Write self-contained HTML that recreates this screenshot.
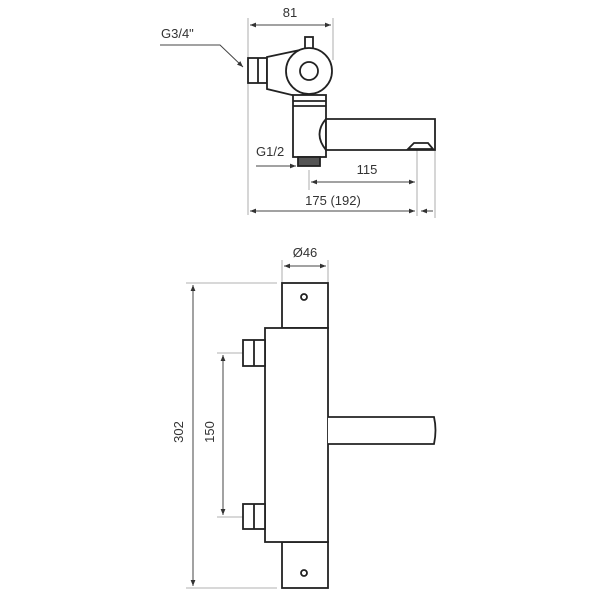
<!DOCTYPE html><html><head><style>body{margin:0;background:#fff}svg{display:block}text{font-family:"Liberation Sans",sans-serif;fill:#333;font-size:13px}</style></head><body>
<svg width="600" height="600" viewBox="0 0 600 600" xmlns="http://www.w3.org/2000/svg">
<defs><marker id="a" viewBox="0 0 10 10" refX="10" refY="5" markerWidth="8" markerHeight="6" orient="auto-start-reverse"><path d="M0,1 L10,5 L0,9 z" fill="#333"/></marker></defs>
<g stroke="#999" stroke-width="0.8" fill="none">
<line x1="248" y1="18" x2="248" y2="215"/><line x1="333" y1="18" x2="333" y2="60"/>
<line x1="309" y1="170" x2="309" y2="190"/><line x1="417" y1="150" x2="417" y2="216"/><line x1="435" y1="150" x2="435" y2="218"/>
<line x1="282" y1="260" x2="282" y2="283"/><line x1="328" y1="260" x2="328" y2="283"/>
<line x1="186" y1="283" x2="277" y2="283"/><line x1="186" y1="588" x2="277" y2="588"/>
<line x1="217" y1="353" x2="243" y2="353"/><line x1="217" y1="517" x2="243" y2="517"/>
</g>
<g stroke="#444" stroke-width="1" fill="none">
<line x1="250" y1="25" x2="331" y2="25" marker-start="url(#a)" marker-end="url(#a)"/>
<polyline points="160,45 220,45 243,67" marker-end="url(#a)"/>
<line x1="256" y1="166" x2="296" y2="166" marker-end="url(#a)"/>
<line x1="311" y1="182" x2="415" y2="182" marker-start="url(#a)" marker-end="url(#a)"/>
<line x1="250" y1="211" x2="415" y2="211" marker-start="url(#a)" marker-end="url(#a)"/>
<line x1="433" y1="211" x2="421" y2="211" marker-end="url(#a)"/>
<line x1="284" y1="266" x2="326" y2="266" marker-start="url(#a)" marker-end="url(#a)"/>
<line x1="193" y1="285" x2="193" y2="586" marker-start="url(#a)" marker-end="url(#a)"/>
<line x1="223" y1="355" x2="223" y2="515" marker-start="url(#a)" marker-end="url(#a)"/>
</g>
<g stroke="#222" stroke-width="1.8" fill="#fff">
<rect x="248" y="58" width="19" height="25"/><line x1="258" y1="58" x2="258" y2="83"/>
<path d="M267,57 L300,50 L309,48 L309,94 L296,96 L267,89 Z"/>
<rect x="305" y="37" width="8" height="12"/>
<rect x="293" y="95" width="33" height="62"/><line x1="293" y1="101" x2="326" y2="101"/><line x1="293" y1="106" x2="326" y2="106"/>
<circle cx="309" cy="71" r="23"/><circle cx="309" cy="71" r="9"/>
<path d="M326,119 L435,119 L435,150 L326,150 Z"/>
<path d="M326,119 Q313,134 326,150" fill="none"/>
<path d="M408,149 L414,143 L428,143 L433,149 Z"/>
<rect x="298" y="157" width="22" height="9" fill="#555"/>
<rect x="282" y="283" width="46" height="45"/>
<rect x="282" y="542" width="46" height="46"/>
<rect x="265" y="328" width="63" height="214"/>
<rect x="243" y="340" width="22" height="26"/><line x1="254" y1="340" x2="254" y2="366"/>
<rect x="243" y="504" width="22" height="25"/><line x1="254" y1="504" x2="254" y2="529"/>
<path d="M328,417 L434,417 Q437,430 434,444 L328,444"/>
<circle cx="304" cy="297" r="3"/><circle cx="304" cy="573" r="3"/>
</g>
<text x="290" y="17" text-anchor="middle">81</text>
<text x="161" y="38">G3/4"</text>
<text x="256" y="156">G1/2</text>
<text x="367" y="174" text-anchor="middle">115</text>
<text x="333" y="205" text-anchor="middle">175 (192)</text>
<text x="305" y="257" text-anchor="middle">Ø46</text>
<text transform="translate(183,432) rotate(-90)" text-anchor="middle">302</text>
<text transform="translate(214,432) rotate(-90)" text-anchor="middle">150</text>
</svg></body></html>
